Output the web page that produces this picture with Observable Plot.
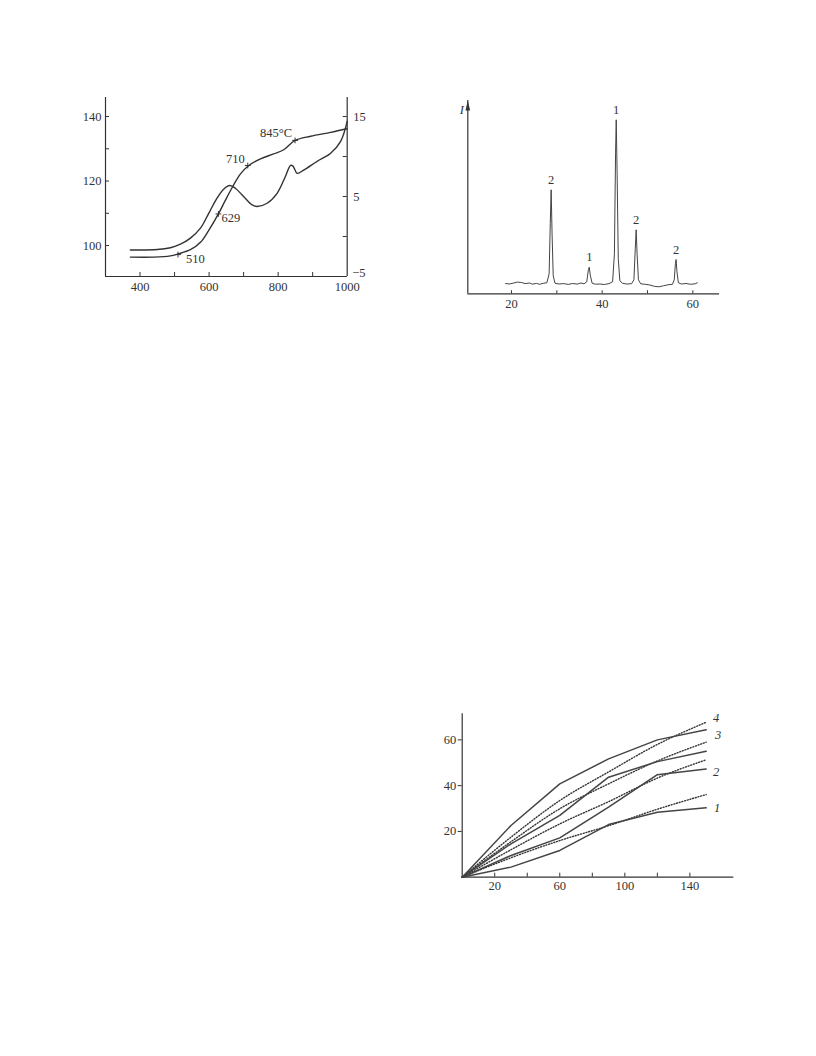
<!DOCTYPE html>
<html><head><meta charset="utf-8">
<script src="https://cdn.jsdelivr.net/npm/d3@7"></script>
<script src="https://cdn.jsdelivr.net/npm/@observablehq/plot@0.6"></script>
<style>
body{margin:0;background:#fff;width:816px;height:1056px;position:relative;overflow:hidden}
.c{position:absolute}
svg{overflow:visible}
</style></head><body>
<div id="c1" class="c" style="left:60px;top:85px"></div>
<div id="c2" class="c" style="left:450px;top:90px"></div>
<div id="c3" class="c" style="left:430px;top:700px"></div>
<script>
// ---------- Chart 1 data (temperature, °C) ----------
const tempLower = [372,440,488,510,546,575,599,627,647,667,691,715,749,787,816,849,894,952,1000];
const valLower  = [96.4,96.4,96.8,97.4,98.7,101,104.7,109.8,114,118,122.2,124.8,126.9,128.4,129.7,132.6,133.9,135.1,136.2];
const tempUpper = [372,450,488,517,546,575,599,623,643,660,676,700,725,739,768,797,821,836,843,855,874,913,952,981,1000];
const valUpper  = [-1.68,-1.63,-1.4,-0.96,-0.2,1.04,2.9,4.8,5.95,6.37,6.04,5.0,3.95,3.75,4.16,5.4,7.5,8.9,8.8,7.9,8.3,9.4,10.4,11.9,14.4]; // right axis units
const markTemps = [510,627,712,849];
const markVals  = [97.2,109.8,124.8,132.6];
const markTexts = ["510","629","710","845°C"];
const xTicks1 = [400,600,800,1000];
const xMinor1 = [400,500,600,700,800,900];
const leftTicks1 = [100,120,140];
const leftMinor1 = [100,110,120,130,140];
const rightTicks1 = [5,15];
const rightBottomTick1 = [-5];
const rightMinor1 = [-5,0,5,10,15];

// ---------- Chart 2 data (2θ, intensity) ----------
const twoTheta = [18.7,19.5,20.5,21.3,22.2,23,24,24.6,25.5,26.2,27,27.8,28.3,28.55,28.75,28.95,29.2,29.6,30.5,31.5,32.5,33.5,34.5,35.3,36,36.6,36.95,37.15,37.4,37.8,38.5,39.5,40.5,41.5,42.3,42.7,42.95,43.1,43.3,43.55,43.9,44.5,45.5,46.5,47.0,47.3,47.5,47.7,48.0,48.5,49.5,50.5,51.5,52.5,53.5,54.5,55.5,55.9,56.15,56.3,56.5,56.8,57.5,58.5,59.5,60.5,61.0];
const intensity = [10.3,9.8,10.8,11.7,11.3,10.2,10.8,9.6,10.4,9.5,10.5,11,20,70,104,60,18,10.5,9.8,10.2,9.4,10.3,9.7,10.8,10,12,24,26.6,18,10.5,9.6,9.8,9.3,10.2,12,40,140,174,120,35,13,10.5,9.7,10.2,14,45,64,40,14,10,9.5,8.8,7.5,7,8,9,9.5,14,30,34.3,22,11,9.8,10.3,9.5,10,11];
const peakPos = [28.75,37.15,43.1,47.5,56.3];
const peakI = [104,26.6,174,64,34.3];
const peakPhase = ["2","1","1","2","2"];
const xTicks2 = [20,40,60];
const xMinor2 = [20,30,40,50,60];

// ---------- Chart 3 data ----------
const timeX = [0,30,60,90,120,150];
const exp1 = [0,4.4,11.7,23,28.4,30.3];
const exp2 = [0,9.5,17.2,30.6,44.8,47.3];
const exp3 = [0,14.6,27,43.7,50.5,55];
const exp4 = [0,22.6,40.8,51.7,60,64.4];
const calc1 = [0,8.5,16,22.5,29.7,36.1];
const calc2 = [0,12,23.3,33,43.3,51.3];
const calc3 = [0,15.5,29.9,40.8,50.8,59];
const calc4 = [0,17.5,33.5,46,58,67.7];
const seriesNames = ["1","2","3","4"];
const xTicks3 = [20,60,100,140];
const xMinor3 = [20,40,60,80,100,120,140];
const yTicks3 = [20,40,60];

const INK = "#333";
const FS = 12.5;
const baseStyle = {fontFamily:"'Liberation Serif', serif", fontSize:"12.5px", color:INK, background:"transparent", overflow:"visible"};

// ---------- Chart 1 ----------
{
  const W=320,H=230,ml=45,mr=33.3,mt=12,mb=39;
  const pw=W-ml-mr, ph=H-mt-mb;
  const L0=90.4, LT=145.9, K=2.48;
  const toLeft = r => L0 + (r + 5) * K;
  const fmtR = d=>{const r=Math.round((d-L0)/K-5);return r<0?"\u2212"+(-r):String(r);};
  const lower = tempLower.map((t,i)=>({t, v:valLower[i]}));
  const upper = tempUpper.map((t,i)=>({t, v:toLeft(valUpper[i])}));
  const marks = markTemps.map((t,i)=>({t, v:markVals[i], s:markTexts[i]}));
  const p = Plot.plot({
    width:W,height:H,marginLeft:ml,marginRight:mr,marginTop:mt,marginBottom:mb,
    style:baseStyle,
    x:{domain:[300,1000]}, y:{domain:[L0,LT]},
    marks:[
      Plot.ruleX([300,1000],{stroke:INK,strokeWidth:1.2}),
      Plot.ruleY([L0],{stroke:INK,strokeWidth:1.2}),
      Plot.axisX({ticks:xTicks1,tickSize:0,tickPadding:6,tickFormat:"d",label:null,fontSize:FS}),
      Plot.tickX(xMinor1,{x:d=>d,insetTop:ph-4,stroke:INK}),
      Plot.axisY({ticks:leftTicks1,tickSize:0,tickPadding:4,tickFormat:"d",label:null,fontSize:FS}),
      Plot.tickY(leftMinor1,{y:d=>d,insetRight:pw-4,stroke:INK}),
      Plot.axisY({anchor:"right",ticks:rightTicks1.map(toLeft),tickSize:0,tickPadding:6,fontSize:FS,tickFormat:fmtR,label:null}),
      Plot.axisY({anchor:"right",ticks:rightBottomTick1.map(toLeft),tickSize:0,tickPadding:5,fontSize:FS,tickFormat:fmtR,label:null,dy:-4}),
      Plot.tickY(rightMinor1.map(toLeft),{y:d=>d,insetLeft:pw-4,stroke:INK}),
      Plot.line(lower,{x:"t",y:"v",curve:"catmull-rom",stroke:INK,strokeWidth:1.4}),
      Plot.line(upper,{x:"t",y:"v",curve:"catmull-rom",stroke:INK,strokeWidth:1.4}),
      Plot.dot(marks,{x:"t",y:"v",symbol:"plus",r:2,stroke:INK,strokeWidth:1}),
      Plot.text(marks.filter(d=>d.t<600),{x:"t",y:"v",text:"s",textAnchor:"start",dx:8,dy:4,fontSize:FS,fill:INK}),
      Plot.text(marks.filter(d=>d.t>600&&d.t<700),{x:"t",y:"v",text:"s",textAnchor:"start",dx:3,dy:4,fontSize:FS,fill:INK}),
      Plot.text(marks.filter(d=>d.t>700),{x:"t",y:"v",text:"s",textAnchor:"end",dx:-3,dy:-7,fontSize:FS,fill:INK})
    ]
  });
  document.getElementById("c1").append(p);
}

// ---------- Chart 2 ----------
{
  const W=280,H=230,ml=17.3,mr=11,mt=10,mb=26.7;
  const ph=H-mt-mb;
  const X0=10.36, X1=65.88, YT=193.3;
  const data = twoTheta.map((x,i)=>({x, y:intensity[i]}));
  const peaks = peakPos.map((x,i)=>({x, y:peakI[i], s:peakPhase[i]}));
  const arrowHead = {draw(ctx){ctx.moveTo(0,0);ctx.lineTo(2.3,10);ctx.lineTo(-2.3,10);ctx.closePath();}};
  const p = Plot.plot({
    width:W,height:H,marginLeft:ml,marginRight:mr,marginTop:mt,marginBottom:mb,
    style:baseStyle,
    x:{domain:[X0,X1]}, y:{domain:[0,YT], axis:null},
    marks:[
      Plot.ruleX([X0],{stroke:INK,strokeWidth:1.2}),
      Plot.ruleY([0],{stroke:INK,strokeWidth:1.2}),
      Plot.dot([{x:X0,y:YT}],{x:"x",y:"y",symbol:arrowHead,fill:INK,stroke:null}),
      Plot.text(["I"],{frameAnchor:"top-left",dx:-8,dy:5,fontStyle:"italic",fontSize:FS,fill:INK}),
      Plot.axisX({ticks:xTicks2,tickSize:0,tickPadding:5,label:null,fontSize:FS}),
      Plot.tickX(xMinor2,{x:d=>d,insetTop:ph-3,stroke:INK}),
      Plot.line(data,{x:"x",y:"y",stroke:"#444",strokeWidth:1}),
      Plot.text(peaks,{x:"x",y:"y",text:"s",dy:-10,fontSize:FS,fill:INK})
    ]
  });
  document.getElementById("c2").append(p);
}

// ---------- Chart 3 ----------
{
  const W=310,H=200,ml=31.7,mr=6.7,mt=13.3,mb=23.3;
  const ph=H-mt-mb;
  const exps=[exp1,exp2,exp3,exp4], calcs=[calc1,calc2,calc3,calc4];
  const solid=[], dotted=[];
  exps.forEach((arr,k)=>arr.forEach((v,i)=>solid.push({x:timeX[i],y:v,s:seriesNames[k]})));
  calcs.forEach((arr,k)=>arr.forEach((v,i)=>dotted.push({x:timeX[i],y:v,s:seriesNames[k]})));
  const last = timeX.length-1;
  const endOf = (arr,k)=>[{x:timeX[last],y:arr[last],s:seriesNames[k]}];
  const lab = (arr,k,dx,dy)=>Plot.text(endOf(arr,k),{x:"x",y:"y",text:"s",dx,dy,fontStyle:"italic",fontSize:FS,fill:INK,textAnchor:"middle"});
  const p = Plot.plot({
    width:W,height:H,marginLeft:ml,marginRight:mr,marginTop:mt,marginBottom:mb,
    style:baseStyle,
    x:{domain:[0,167]}, y:{domain:[0,71.4]},
    marks:[
      Plot.ruleX([0],{stroke:INK,strokeWidth:1.2}),
      Plot.ruleY([0],{stroke:INK,strokeWidth:1.2}),
      Plot.axisX({ticks:xTicks3,tickSize:0,tickPadding:4,label:null,fontSize:FS}),
      Plot.tickX(xMinor3,{x:d=>d,insetTop:ph-4,stroke:INK}),
      Plot.axisY({ticks:yTicks3,tickSize:4,tickPadding:2,label:null,fontSize:FS}),
      Plot.line(dotted,{x:"x",y:"y",z:"s",curve:"monotone-x",stroke:"#333",strokeWidth:1.4,strokeDasharray:"1,1.8"}),
      Plot.line(solid,{x:"x",y:"y",z:"s",stroke:"#444",strokeWidth:1.5}),
      lab(calc4,3,10,-4),
      lab(calc3,2,12,-7),
      lab(exp2,1,10,3),
      lab(exp1,0,11,0)
    ]
  });
  document.getElementById("c3").append(p);
}
</script>
</body></html>
